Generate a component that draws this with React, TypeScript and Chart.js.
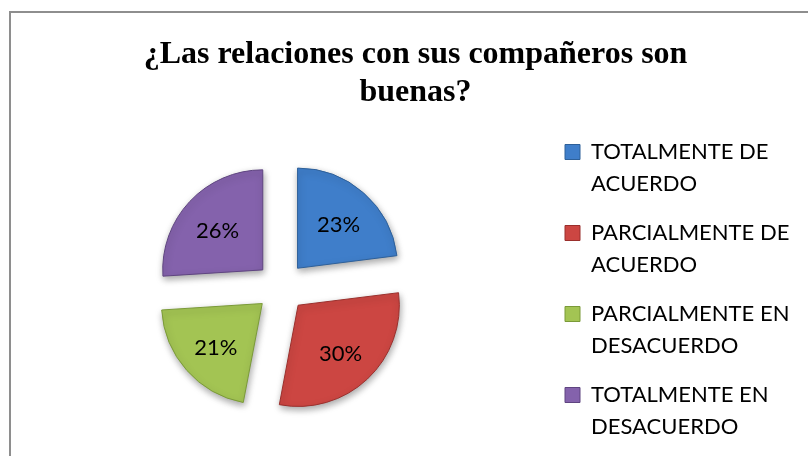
import React, { useEffect, useRef } from 'react';
import { Chart, registerables } from 'chart.js';

Chart.register(...registerables);

const TITLE_LINES = ['¿Las relaciones con sus compañeros son', 'buenas?'];
const CATEGORIES = [
  ['TOTALMENTE DE', 'ACUERDO'],
  ['PARCIALMENTE DE', 'ACUERDO'],
  ['PARCIALMENTE EN', 'DESACUERDO'],
  ['TOTALMENTE EN', 'DESACUERDO'],
];
const VALUES = [23, 30, 21, 26];
const VALUE_LABELS = ['23%', '30%', '21%', '26%'];
const COLORS = ['#3F7ECA', '#CC4642', '#A3C453', '#8462AC'];
const BORDERS = ['#2E6099', '#9A2F2C', '#7A9A38', '#5F4580'];

const pieDecor = {
  id: 'pieDecor',
  beforeDatasetsDraw(chart: any) {
    const ctx = chart.ctx;
    ctx.save();
    ctx.shadowColor = 'rgba(0,0,0,0.35)';
    ctx.shadowBlur = 7;
    ctx.shadowOffsetX = 1;
    ctx.shadowOffsetY = 3;
  },
  afterDatasetsDraw(chart: any) {
    const ctx = chart.ctx;
    ctx.restore();
    const meta = chart.getDatasetMeta(0);
    ctx.save();
    ctx.font = '22px Lato';
    ctx.fillStyle = '#000';
    ctx.textAlign = 'center';
    ctx.textBaseline = 'middle';
    meta.data.forEach((arc: any, i: number) => {
      const p = arc.getProps(['x', 'y', 'startAngle', 'endAngle', 'outerRadius'], true);
      const mid = (p.startAngle + p.endAngle) / 2;
      const off = (arc.options.offset || 0) / 4;
      const d = off + p.outerRadius * 0.62;
      ctx.fillText(VALUE_LABELS[i], p.x + Math.cos(mid) * d, p.y + Math.sin(mid) * d + 3);
    });
    ctx.restore();
  },
};

export default function App() {
  const ref = useRef<HTMLCanvasElement>(null);
  useEffect(() => {
    document.body.style.margin = '0';
    const chart = new Chart(ref.current as HTMLCanvasElement, {
      type: 'pie',
      data: {
        labels: CATEGORIES as any,
        datasets: [
          {
            data: VALUES,
            backgroundColor: COLORS,
            borderColor: BORDERS,
            borderWidth: 1,
            offset: 100,
          },
        ],
      },
      options: {
        responsive: false,
        animation: false,
        radius: 100,
        layout: { padding: { left: 14, right: -9, top: 0, bottom: 0 } },
        plugins: {
          title: {
            display: true,
            text: TITLE_LINES,
            color: '#000',
            font: { family: '"Liberation Serif", "Times New Roman", serif', size: 32, weight: 'bold', lineHeight: 38 / 32 },
            padding: { top: 36, bottom: 6 },
          },
          legend: {
            position: 'right',
            align: 'start',
            fullSize: false,
            maxWidth: 269,
            title: { display: true, text: ' ', font: { size: 1, lineHeight: 1 }, padding: { top: 5, bottom: 0 } },
            labels: {
              color: '#000',
              boxWidth: 15,
              boxHeight: 15,
              padding: 17,
              font: { family: 'Lato', size: 22, lineHeight: 32 / 22 },
            },
          },
          tooltip: { enabled: false },
        },
      } as any,
      plugins: [pieDecor],
    });
    return () => chart.destroy();
  }, []);
  return (
    <div style={{ position: 'relative', width: 808, height: 456, overflow: 'hidden', background: '#fff' }}>
      <div
        style={{
          position: 'absolute',
          left: 9,
          top: 11,
          width: 900,
          height: 600,
          border: '2px solid #8e8e8e',
          boxSizing: 'border-box',
        }}
      />
      <canvas ref={ref} width={808} height={456} style={{ position: 'absolute', left: 0, top: 0 }} />
    </div>
  );
}
